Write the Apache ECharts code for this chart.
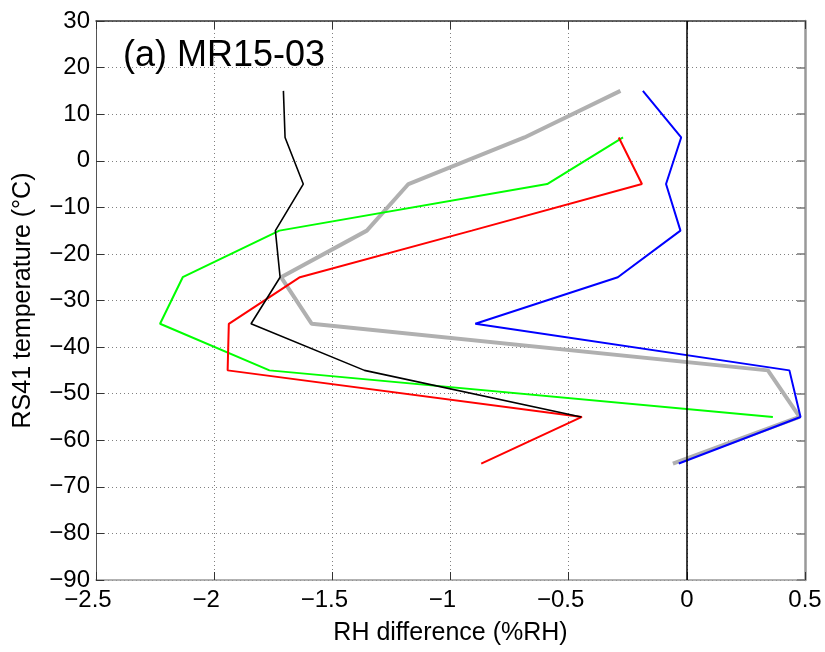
<!DOCTYPE html>
<html>
<head>
<meta charset="utf-8">
<script src="https://cdn.jsdelivr.net/npm/echarts@6/dist/echarts.min.js"></script>
<style>
html,body{margin:0;padding:0;background:#fff;}
#chart{width:825px;height:652px;}
</style>
</head>
<body>
<div id="chart"></div>
<script>
// Data (RS41 temperature levels, °C) and RH differences (%RH)
const greyTemps  = [15, 5, -5, -15, -25, -35, -45, -55, -65];
const greyVals   = [-0.281, -0.687, -1.178, -1.354, -1.717, -1.587, 0.343, 0.477, -0.059];
const blueTemps  = [15, 5, -5, -15, -25, -35, -45, -55, -65];
const blueVals   = [-0.186, -0.024, -0.088, -0.027, -0.292, -0.895, 0.434, 0.481, -0.034];
const greenTemps = [5, -5, -15, -25, -35, -45, -55];
const greenVals  = [-0.270, -0.591, -1.724, -2.133, -2.229, -1.766, 0.364];
const redTemps   = [5, -5, -15, -25, -35, -45, -55, -65];
const redVals    = [-0.288, -0.190, -0.910, -1.637, -1.938, -1.943, -0.444, -0.870];
const blackTemps = [15, 5, -5, -15, -25, -35, -45, -55];
const blackVals  = [-1.707, -1.700, -1.623, -1.741, -1.721, -1.844, -1.364, -0.447];

const xTicks = { min: -2.5, max: 0.5, interval: 0.5 };
const yTicks = { min: -90, max: 30, interval: 10 };
const zeroLineX = 0;
const titleText = '(a) MR15-03';
const xName = 'RH difference (%RH)';
const yName = 'RS41 temperature (°C)';

function pairs(vals, temps) { return vals.map((v, i) => [v, temps[i]]); }
const FONT = 'Liberation Sans, Arial, sans-serif';
const fmt = v => String(v).replace('-', '\u2212');
const fmtX = v => v < 0 ? '{n|\u2212' + String(-v) + '}' : '{p|' + String(v) + '}';

const chart = echarts.init(document.getElementById('chart'), null, { renderer: 'canvas' });
const gridLine = { show: true, lineStyle: { color: '#808080', type: [1, 3], width: 1 } };

function line(name, vals, temps, color, width, z) {
  return {
    name, type: 'line', data: pairs(vals, temps), showSymbol: false, symbol: 'none',
    lineStyle: { color, width }, z, animation: false, silent: true
  };
}

chart.setOption({
  animation: false,
  backgroundColor: '#fff',
  title: {
    text: titleText, left: 118, top: 33,
    textStyle: { fontFamily: FONT, fontSize: 36, fontWeight: 'normal', color: '#000' }
  },
  grid: { left: 96, top: 21, right: 20, bottom: 72, containLabel: false },
  xAxis: [{
    type: 'value', position: 'bottom', min: xTicks.min, max: xTicks.max, interval: xTicks.interval,
    name: xName, nameLocation: 'middle', nameGap: 41,
    nameTextStyle: { fontFamily: FONT, fontSize: 25, color: '#000' },
    axisLine: { show: true, onZero: false, lineStyle: { color: '#999', width: 1.5 } },
    axisTick: { show: true, inside: true, length: 8, lineStyle: { color: '#333' } },
    axisLabel: {
      fontFamily: FONT, fontSize: 24, color: '#000', margin: 8, formatter: fmtX,
      rich: {
        n: { fontFamily: FONT, fontSize: 24, color: '#000', padding: [0, 16, 0, 0] },
        p: { fontFamily: FONT, fontSize: 24, color: '#000' }
      }
    },
    splitLine: gridLine
  }, {
    type: 'value', position: 'top', min: xTicks.min, max: xTicks.max, interval: xTicks.interval,
    axisLine: { show: true, onZero: false, lineStyle: { color: '#333', width: 1.5 } },
    axisTick: { show: true, inside: true, length: 8, lineStyle: { color: '#333' } },
    axisLabel: { show: false }, splitLine: { show: false }
  }],
  yAxis: [{
    type: 'value', position: 'left', min: yTicks.min, max: yTicks.max, interval: yTicks.interval,
    name: yName, nameLocation: 'middle', nameGap: 60, nameRotate: 90,
    nameTextStyle: { fontFamily: FONT, fontSize: 25, color: '#000' },
    axisLine: { show: true, onZero: false, lineStyle: { color: '#555', width: 1 } },
    axisTick: { show: true, inside: true, length: 8, lineStyle: { color: '#333' } },
    axisLabel: { fontFamily: FONT, fontSize: 24, color: '#000', margin: 6, formatter: fmt },
    splitLine: gridLine
  }, {
    type: 'value', position: 'right', min: yTicks.min, max: yTicks.max, interval: yTicks.interval,
    axisLine: { show: true, onZero: false, lineStyle: { color: '#999', width: 2.5 } },
    axisTick: { show: true, inside: true, length: 8, lineStyle: { color: '#777', width: 1.5 } },
    axisLabel: { show: false }, splitLine: { show: false }
  }],
  series: [
    Object.assign(line('grey', greyVals, greyTemps, '#b0b0b0', 4, 2), {
      markLine: {
        silent: true, symbol: 'none', animation: false,
        label: { show: false },
        lineStyle: { color: '#000', width: 1.5, type: 'solid' },
        data: [{ xAxis: zeroLineX }]
      }
    }),
    line('blue', blueVals, blueTemps, '#0000ff', 2, 3),
    line('green', greenVals, greenTemps, '#00ff00', 2, 4),
    line('red', redVals, redTemps, '#ff0000', 2, 5),
    line('black', blackVals, blackTemps, '#000000', 1.6, 6)
  ]
});
</script>
</body>
</html>
